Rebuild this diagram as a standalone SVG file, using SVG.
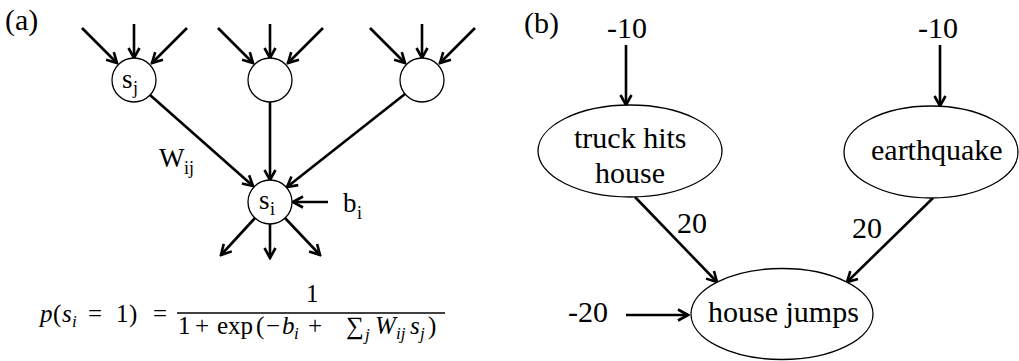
<svg xmlns="http://www.w3.org/2000/svg" width="1019" height="361" viewBox="0 0 1019 361">
<defs>
<marker id="arr" viewBox="0 0 14 14" refX="12" refY="7" markerWidth="14" markerHeight="14" markerUnits="userSpaceOnUse" orient="auto">
<path d="M2,1.5 L12,7 L2,12.5" fill="none" stroke="#000" stroke-width="2.6" stroke-linejoin="miter"/>
</marker>
</defs>
<rect width="1019" height="361" fill="#fff"/>
<text font-family="Liberation Serif" font-size="30" x="5" y="30">(a)</text>
<text font-family="Liberation Serif" font-size="30" x="524" y="33">(b)</text>

<g id="connectors" stroke="#000" stroke-width="2.6" fill="none" marker-end="url(#arr)">
<line x1="82" y1="28" x2="117" y2="63"/>
<line x1="134" y1="24" x2="134" y2="58"/>
<line x1="187" y1="28" x2="152" y2="63"/>
<line x1="218" y1="28" x2="253" y2="63"/>
<line x1="270" y1="24" x2="270" y2="58"/>
<line x1="323" y1="28" x2="288" y2="63"/>
<line x1="370" y1="28" x2="405" y2="63"/>
<line x1="422" y1="24" x2="422" y2="58"/>
<line x1="475" y1="28" x2="440" y2="63"/>
<line x1="150" y1="95" x2="253" y2="186"/>
<line x1="270" y1="102" x2="270" y2="180"/>
<line x1="405" y1="94" x2="287" y2="187"/>
<line x1="328" y1="202" x2="293" y2="202"/>
<line x1="255" y1="218" x2="221" y2="255"/>
<line x1="270" y1="224" x2="270" y2="258"/>
<line x1="285" y1="218" x2="320" y2="255"/>
<line x1="626" y1="45" x2="626" y2="105"/>
<line x1="940" y1="45" x2="940" y2="106"/>
<line x1="635" y1="197" x2="717" y2="282"/>
<line x1="933" y1="198" x2="847" y2="282"/>
<line x1="626" y1="315" x2="688" y2="315"/>
</g>

<g id="node-sj">
<circle cx="134" cy="80" r="22" fill="#fff" stroke="#000" stroke-width="1.3"/>
<text font-family="Liberation Serif" font-size="27" x="122" y="88">s</text>
<text font-family="Liberation Serif" font-size="18" x="133" y="94">j</text>
</g>
<g id="node-mid">
<circle cx="270" cy="80" r="22" fill="#fff" stroke="#000" stroke-width="1.3"/>
</g>
<g id="node-right">
<circle cx="422" cy="80" r="22" fill="#fff" stroke="#000" stroke-width="1.3"/>
</g>
<g id="node-si">
<circle cx="270" cy="202" r="22" fill="#fff" stroke="#000" stroke-width="1.3"/>
<text font-family="Liberation Serif" font-size="27" x="259" y="209">s</text>
<text font-family="Liberation Serif" font-size="18" x="270" y="215">i</text>
</g>

<text font-family="Liberation Serif" font-size="27" x="159" y="167">W</text>
<text font-family="Liberation Serif" font-size="18" x="184" y="174">ij</text>
<text font-family="Liberation Serif" font-size="27" x="343" y="212">b</text>
<text font-family="Liberation Serif" font-size="18" x="357" y="219">i</text>

<g id="formula">
<text font-family="Liberation Serif" font-size="25" y="322"><tspan font-style="italic" x="40">p</tspan><tspan x="53">(</tspan><tspan font-style="italic" x="62">s</tspan><tspan font-style="italic" font-size="17" x="72" dy="5">i</tspan><tspan x="88" dy="-5">=</tspan><tspan x="116">1</tspan><tspan x="129">)</tspan><tspan x="153">=</tspan></text>
<text font-family="Liberation Serif" font-size="25" x="306" y="302">1</text>
<line x1="177" y1="313" x2="445" y2="313" stroke="#000" stroke-width="1.3"/>
<text font-family="Liberation Serif" font-size="25" y="334"><tspan x="178">1</tspan><tspan x="195">+</tspan><tspan x="217">exp</tspan><tspan x="256">(</tspan><tspan x="266">−</tspan><tspan font-style="italic" x="282">b</tspan><tspan font-style="italic" font-size="17" x="294" dy="5">i</tspan><tspan x="308" dy="-5">+</tspan><tspan x="346">∑</tspan><tspan font-style="italic" font-size="17" x="365" dy="6">j</tspan><tspan font-style="italic" x="375" dy="-6">W</tspan><tspan font-style="italic" font-size="17" x="396" dy="5">ij</tspan><tspan font-style="italic" x="410" dy="-5">s</tspan><tspan font-style="italic" font-size="17" x="420" dy="5">j</tspan><tspan x="428" dy="-5">)</tspan></text>
</g>

<text font-family="Liberation Serif" font-size="30" x="607" y="38">-10</text>
<text font-family="Liberation Serif" font-size="30" x="918" y="38">-10</text>

<g id="node-truck">
<ellipse cx="630" cy="151" rx="92" ry="46" fill="#fff" stroke="#000" stroke-width="1.3"/>
<text font-family="Liberation Serif" font-size="30" x="574" y="148">truck hits</text>
<text font-family="Liberation Serif" font-size="30" x="595" y="183">house</text>
</g>
<g id="node-earthquake">
<ellipse cx="931" cy="152" rx="87" ry="46" fill="#fff" stroke="#000" stroke-width="1.3"/>
<text font-family="Liberation Serif" font-size="30" x="871" y="160">earthquake</text>
</g>
<g id="node-housejumps">
<ellipse cx="782" cy="314" rx="91" ry="45.5" fill="#fff" stroke="#000" stroke-width="1.3"/>
<text font-family="Liberation Serif" font-size="30" x="708" y="322">house jumps</text>
</g>

<text font-family="Liberation Serif" font-size="30" x="568" y="322">-20</text>
<text font-family="Liberation Serif" font-size="30" x="677" y="233">20</text>
<text font-family="Liberation Serif" font-size="30" x="852" y="238">20</text>
</svg>
